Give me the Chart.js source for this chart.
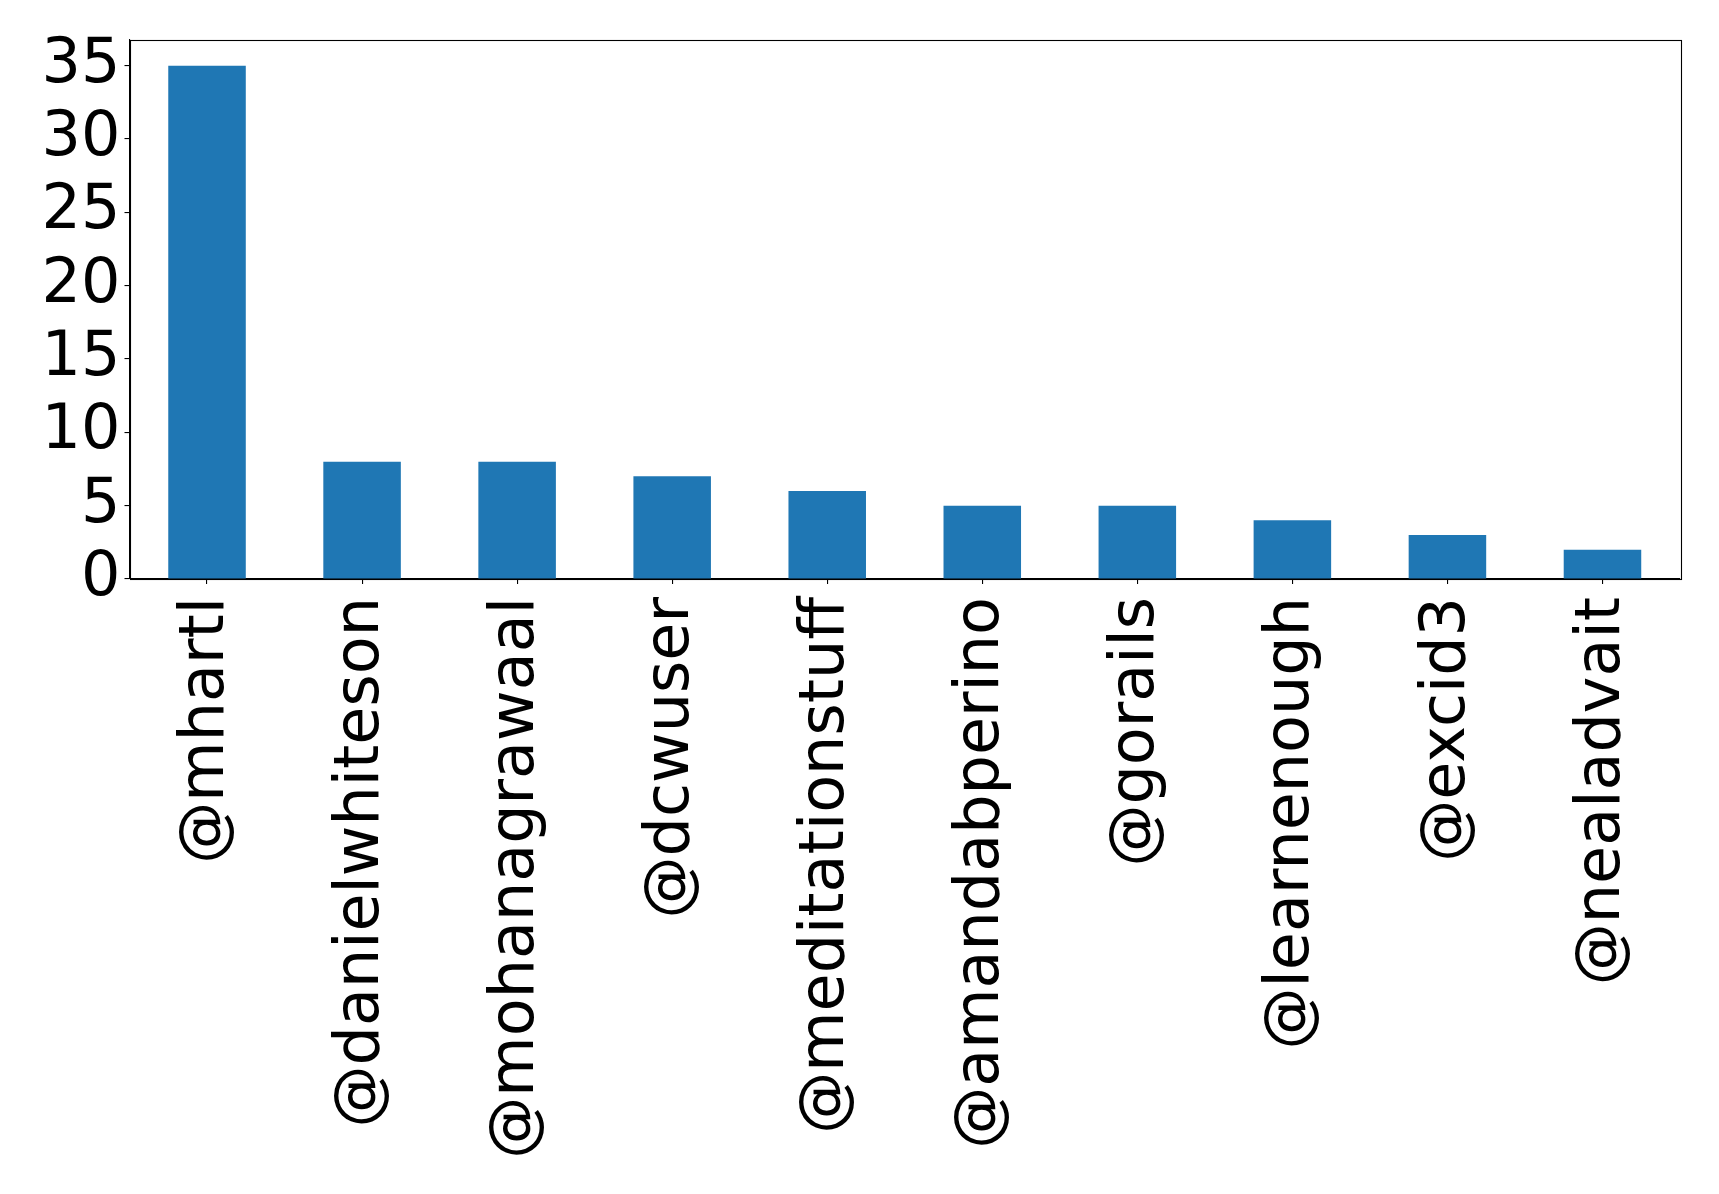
<!DOCTYPE html>
<html>
<head>
<meta charset="utf-8">
<script src="https://cdn.jsdelivr.net/npm/chart.js@4"></script>
<style>
html,body{margin:0;padding:0;background:#fff;}
canvas{display:block;}
</style>
</head>
<body>
<canvas id="c" width="1719" height="1194"></canvas>
<script>
const categories = ["@mhartl","@danielwhiteson","@mohanagrawaal","@dcwuser","@meditationstuff","@amandabperino","@gorails","@learnenough","@excid3","@nealadvait"];
const counts = [35, 8, 8, 7, 6, 5, 5, 4, 3, 2];
const yTicks = [0, 5, 10, 15, 20, 25, 30, 35];

const FONT = "'DejaVu Sans', sans-serif";

const framePlugin = {
  id: 'frame',
  afterDatasetsDraw(chart) {
    const a = chart.chartArea;
    const ctx = chart.ctx;
    ctx.save();
    ctx.strokeStyle = '#000';
    ctx.lineWidth = 1.1;
    ctx.strokeRect(Math.round(a.left) + 0.5, Math.round(a.top) + 0.5, Math.round(a.right - a.left), Math.round(a.bottom - a.top));
    ctx.restore();
  }
};

new Chart(document.getElementById('c'), {
  type: 'bar',
  data: {
    labels: categories,
    datasets: [{
      data: counts,
      backgroundColor: '#1f77b4',
      borderWidth: 0,
      barPercentage: 0.5,
      categoryPercentage: 1.0
    }]
  },
  options: {
    responsive: false,
    devicePixelRatio: 1,
    animation: false,
    layout: { padding: { left: 0, top: 40, right: 39, bottom: 0 } },
    plugins: { legend: { display: false }, tooltip: { enabled: false } },
    scales: {
      x: {
        offset: true,
        grid: { display: true, drawOnChartArea: false, drawTicks: true, tickLength: 5, offset: false, color: '#000', lineWidth: 1.1 },
        border: { display: true, color: '#000', width: 1.1 },
        ticks: {
          autoSkip: false,
          maxRotation: 90,
          minRotation: 90,
          padding: 13,
          color: '#000',
          font: { family: FONT, size: 62, lineHeight: 1 }
        },
        afterFit(scale) { scale.height = 615; }
      },
      y: {
        min: 0,
        max: 36.75,
        grid: { display: true, drawOnChartArea: false, drawTicks: true, tickLength: 5, color: '#000', lineWidth: 1.1 },
        border: { display: true, color: '#000', width: 1.1 },
        afterBuildTicks(scale) { scale.ticks = yTicks.map(v => ({ value: v })); },
        ticks: {
          includeBounds: false,
          padding: 4,
          color: '#000',
          font: { family: FONT, size: 62, lineHeight: 1 }
        },
        afterFit(scale) { scale.width = 129.5; }
      }
    }
  },
  plugins: [framePlugin]
});
</script>
</body>
</html>
